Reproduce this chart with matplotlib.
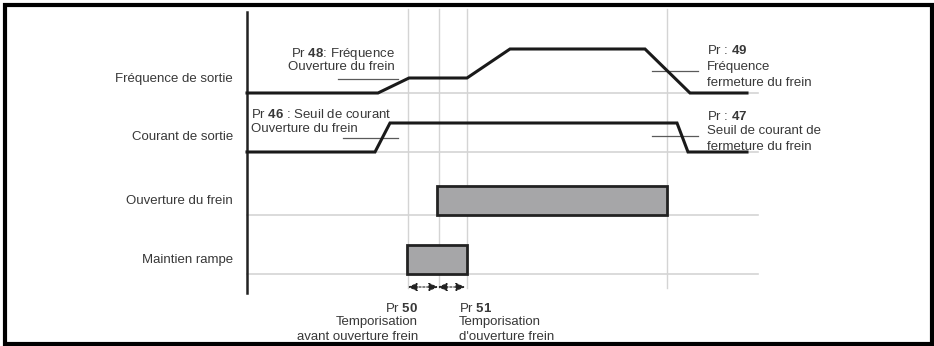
import matplotlib
matplotlib.use("Agg")
import matplotlib.pyplot as plt
from matplotlib.patches import Rectangle

plt.rcParams['font.family'] = ['Liberation Sans', 'DejaVu Sans']
plt.rcParams['mathtext.fontset'] = 'custom'
plt.rcParams['mathtext.rm'] = 'Liberation Sans'
plt.rcParams['mathtext.bf'] = 'Liberation Sans:bold'

# ---- data (time axis and signal levels, in diagram units) ----
signal_names = ["Fréquence de sortie", "Courant de sortie", "Ouverture du frein", "Maintien rampe"]
signal_label_y = [79, 137, 201, 260]
baseline_y = [93, 152, 215, 274]

freq_t = [247, 378, 409, 467, 510, 645, 690, 747]
freq_y = [93, 93, 78, 78, 49, 49, 93, 93]

curr_t = [247, 375, 390, 677, 688, 747]
curr_y = [152, 152, 123, 123, 152, 152]

event_t = [408, 439, 467, 667]

brake_open = (437, 667)      # start, end of brake open
brake_level = (186, 215)
ramp_hold = (407, 467)
ramp_level = (245, 274)

thresholds = [  # (x0, x1, level)
    (338, 398, 79),
    (343, 398, 138),
    (652, 698, 71),
    (652, 698, 136),
]

timing_spans = [(408, 438), (438, 465)]
timing_y = 287

# annotation lines: (x, first_y, line_step, ha, lines)
annotations = [
    (395, 52, 14, 'right', [r"Pr $\mathbf{48}$: Fréquence", "Ouverture du frein"]),
    (251, 113, 14, 'left', [r"Pr $\mathbf{46}$ : Seuil de courant", "Ouverture du frein"]),
    (707, 49, 16.5, 'left', [r"Pr : $\mathbf{49}$", "Fréquence", "fermeture du frein"]),
    (707, 115, 15, 'left', [r"Pr : $\mathbf{47}$", "Seuil de courant de", "fermeture du frein"]),
    (418, 307, 14, 'right', [r"Pr $\mathbf{50}$", "Temporisation", "avant ouverture frein"]),
    (459, 307, 14, 'left', [r"Pr $\mathbf{51}$", "Temporisation", "d'ouverture frein"]),
]

GRID = '#d4d4d4'
TXT = '#383838'
FS = 9.5

fig = plt.figure(figsize=(9.34, 3.46), dpi=100)
ax = fig.add_axes([0, 0, 1, 1])
ax.set_xlim(0, 934)
ax.set_ylim(346, 0)
ax.axis('off')

# outer frame
ax.add_patch(Rectangle((5, 5), 927, 339, fill=False, lw=3.0, ec='black', zorder=10))

# grid
for y in baseline_y:
    ax.plot([247, 758], [y, y], color=GRID, lw=1.2, zorder=1)
for x in event_t:
    ax.plot([x, x], [9, 288], color=GRID, lw=1.0, zorder=1)

# vertical axis
ax.plot([247, 247], [12, 293], color='#222222', lw=1.8, zorder=3)

# signals
ax.plot(freq_t, freq_y, color='#1a1a1a', lw=2.2, solid_joinstyle='miter', zorder=4)
ax.plot(curr_t, curr_y, color='#1a1a1a', lw=2.2, solid_joinstyle='miter', zorder=4)

# threshold markers
for x0, x1, y in thresholds:
    ax.plot([x0, x1], [y, y], color='#5a5a5a', lw=0.9, zorder=3)

# bars
ax.add_patch(Rectangle((brake_open[0], brake_level[0]), brake_open[1] - brake_open[0],
                       brake_level[1] - brake_level[0], fc='#a6a6a8', ec='#222222', lw=2.0, zorder=5))
ax.add_patch(Rectangle((ramp_hold[0], ramp_level[0]), ramp_hold[1] - ramp_hold[0],
                       ramp_level[1] - ramp_level[0], fc='#a6a6a8', ec='#222222', lw=2.0, zorder=5))

# timing arrows
for x0, x1 in timing_spans:
    ax.annotate('', xy=(x0, timing_y), xytext=(x1, timing_y),
                arrowprops=dict(arrowstyle='<|-|>,head_length=0.55,head_width=0.25',
                                color='#222222', lw=0.8, linestyle=(0, (2, 1.5)),
                                shrinkA=0, shrinkB=0))

# signal names
for name, y in zip(signal_names, signal_label_y):
    ax.text(233, y, name, ha='right', va='center', fontsize=FS, color=TXT)

# annotations
for x, y0, step, ha, lines in annotations:
    for i, line in enumerate(lines):
        ax.text(x, y0 + i * step, line, ha=ha, va='center_baseline',
                fontsize=FS, color=TXT)

fig.savefig('out.png', dpi=100)
